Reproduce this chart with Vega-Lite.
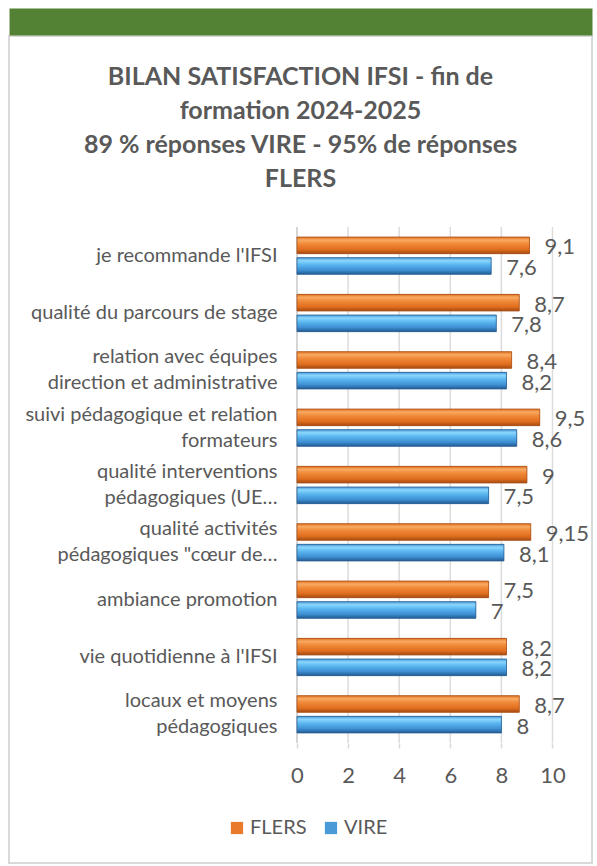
{
  "$schema": "https://vega.github.io/schema/vega-lite/v6.json",
  "width": 583,
  "height": 827,
  "autosize": {"type": "none"},
  "padding": {"left": 9, "top": 36, "right": 5, "bottom": 3},
  "background": "white",
  "config": {
    "font": "Lato",
    "view": {"stroke": "#d9d9d9", "strokeWidth": 2, "fill": "white"},
    "locale": {"number": {"decimal": ",", "thousands": " ", "grouping": [3], "currency": ["", " €"]}}
  },
  "title": {
    "text": ["BILAN SATISFACTION IFSI - fin de", "formation 2024-2025", "89 % réponses VIRE - 95% de réponses", "FLERS"],
    "anchor": "middle",
    "frame": "group",
    "fontSize": 25,
    "fontWeight": "bold",
    "color": "#595959",
    "lineHeight": 34,
    "baseline": "top",
    "offset": 0,
    "dy": 170
  },
  "datasets": {
    "scores": [
      {"cat": "je recommande l'IFSI", "series": "FLERS", "v": 9.1},
      {"cat": "je recommande l'IFSI", "series": "VIRE", "v": 7.6},
      {"cat": "qualité du parcours de stage", "series": "FLERS", "v": 8.7},
      {"cat": "qualité du parcours de stage", "series": "VIRE", "v": 7.8},
      {"cat": "relation avec équipes\ndirection et administrative", "series": "FLERS", "v": 8.4},
      {"cat": "relation avec équipes\ndirection et administrative", "series": "VIRE", "v": 8.2},
      {"cat": "suivi pédagogique et relation\nformateurs", "series": "FLERS", "v": 9.5},
      {"cat": "suivi pédagogique et relation\nformateurs", "series": "VIRE", "v": 8.6},
      {"cat": "qualité interventions\npédagogiques (UE…", "series": "FLERS", "v": 9},
      {"cat": "qualité interventions\npédagogiques (UE…", "series": "VIRE", "v": 7.5},
      {"cat": "qualité activités\npédagogiques \"cœur de…", "series": "FLERS", "v": 9.15},
      {"cat": "qualité activités\npédagogiques \"cœur de…", "series": "VIRE", "v": 8.1},
      {"cat": "ambiance promotion", "series": "FLERS", "v": 7.5},
      {"cat": "ambiance promotion", "series": "VIRE", "v": 7},
      {"cat": "vie quotidienne à l'IFSI", "series": "FLERS", "v": 8.2},
      {"cat": "vie quotidienne à l'IFSI", "series": "VIRE", "v": 8.2},
      {"cat": "locaux et moyens\npédagogiques", "series": "FLERS", "v": 8.7},
      {"cat": "locaux et moyens\npédagogiques", "series": "VIRE", "v": 8}
    ],
    "ticks": [{"t": 0}, {"t": 2}, {"t": 4}, {"t": 6}, {"t": 8}, {"t": 10}]
  },
  "resolve": {"axis": {"x": "independent", "y": "independent"}},
  "layer": [
    {
      "data": {"name": "ticks"},
      "mark": {"type": "rule", "strokeWidth": 1.5, "yOffset": -28.7, "y2Offset": 28.7},
      "encoding": {
        "x": {"field": "t", "type": "quantitative", "axis": null,
              "scale": {"domain": [-11.27, 11.546], "nice": false, "zero": false}},
        "y": {"datum": "je recommande l'IFSI", "type": "nominal", "axis": null,
              "scale": {"type": "band", "domain": [
                "je recommande l'IFSI",
                "qualité du parcours de stage",
                "relation avec équipes\ndirection et administrative",
                "suivi pédagogique et relation\nformateurs",
                "qualité interventions\npédagogiques (UE…",
                "qualité activités\npédagogiques \"cœur de…",
                "ambiance promotion",
                "vie quotidienne à l'IFSI",
                "locaux et moyens\npédagogiques"
              ], "range": [191, 707], "paddingInner": 0.35, "paddingOuter": 0.175}},
        "y2": {"datum": "locaux et moyens\npédagogiques"},
        "color": {"condition": {"test": "datum.t === 0", "value": "#c9c9c9"}, "value": "#dcdcdc"}
      }
    },
    {
      "data": {"name": "scores"},
      "mark": {"type": "bar"},
      "encoding": {
        "x": {"field": "v", "type": "quantitative",
              "axis": {"orient": "bottom", "offset": -120, "values": [0, 2, 4, 6, 8, 10], "title": null,
                       "domain": false, "grid": false, "ticks": true, "tickColor": "#d9d9d9", "tickSize": 5, "tickWidth": 1.5,
                       "labelFontSize": 22, "labelColor": "#595959", "labelPadding": 17, "labelFont": "Lato"}},
        "y": {"field": "cat", "type": "nominal", "sort": null,
              "axis": {"orient": "left", "offset": -268, "title": null, "domain": false, "ticks": false, "grid": false,
                       "labelPadding": 0, "labelFontSize": 20, "labelColor": "#595959", "labelLimit": 400,
                       "labelLineHeight": 26, "labelAlign": "right", "labelBaseline": "middle",
                       "labelOffset": {"condition": {"test": "indexof(datum.value, '\\n') >= 0", "value": -13}, "value": 0},
                       "labelExpr": "split(datum.label, '\\n')"}},
        "yOffset": {"field": "series", "type": "nominal",
                    "scale": {"domain": ["FLERS", "VIRE"], "paddingInner": 0.194, "paddingOuter": 0}},
        "color": {"field": "series", "type": "nominal",
                  "scale": {"domain": ["FLERS", "VIRE"], "range": ["#e97a2c", "#4a9ad8"]},
                  "legend": {"orient": "none", "legendX": 218, "legendY": 782, "direction": "horizontal", "title": null,
                             "symbolType": "square", "symbolSize": 150, "symbolStrokeWidth": 0,
                             "labelFontSize": 20, "labelColor": "#595959", "columnPadding": 14, "labelOffset": 3}}
      }
    },
    {
      "data": {"name": "scores"},
      "transform": [{"filter": "datum.series === 'FLERS'"}],
      "mark": {"type": "bar", "stroke": "#a9501a", "strokeWidth": 0.8,
               "fill": {"gradient": "linear", "x1": 0, "y1": 0, "x2": 0, "y2": 1,
                        "stops": [{"offset": 0, "color": "#e0711f"}, {"offset": 0.18, "color": "#f9aa62"},
                                  {"offset": 0.4, "color": "#f08a39"}, {"offset": 0.75, "color": "#e06e1e"},
                                  {"offset": 1, "color": "#a54a12"}]}},
      "encoding": {
        "x": {"field": "v", "type": "quantitative", "axis": null},
        "y": {"field": "cat", "type": "nominal", "sort": null, "axis": null},
        "yOffset": {"field": "series", "type": "nominal"}
      }
    },
    {
      "data": {"name": "scores"},
      "transform": [{"filter": "datum.series === 'VIRE'"}],
      "mark": {"type": "bar", "stroke": "#2a5f93", "strokeWidth": 0.8,
               "fill": {"gradient": "linear", "x1": 0, "y1": 0, "x2": 0, "y2": 1,
                        "stops": [{"offset": 0, "color": "#4b98da"}, {"offset": 0.18, "color": "#8ad7fd"},
                                  {"offset": 0.42, "color": "#5bb6f0"}, {"offset": 0.75, "color": "#3e8fd3"},
                                  {"offset": 1, "color": "#235a91"}]}},
      "encoding": {
        "x": {"field": "v", "type": "quantitative", "axis": null},
        "y": {"field": "cat", "type": "nominal", "sort": null, "axis": null},
        "yOffset": {"field": "series", "type": "nominal"}
      }
    },
    {
      "data": {"name": "scores"},
      "mark": {"type": "text", "align": "left", "baseline": "middle", "dx": 15, "dy": 2, "fontSize": 22, "color": "#595959"},
      "encoding": {
        "x": {"field": "v", "type": "quantitative",
              "axis": {"orient": "top", "offset": 14.5, "domain": true, "domainColor": "#548235", "domainWidth": 27,
                       "domainCap": "butt", "ticks": false, "labels": false, "grid": false, "title": null}},
        "y": {"field": "cat", "type": "nominal", "sort": null, "axis": null},
        "yOffset": {"field": "series", "type": "nominal"},
        "text": {"field": "v", "type": "quantitative", "format": "~g"}
      }
    }
  ]
}
